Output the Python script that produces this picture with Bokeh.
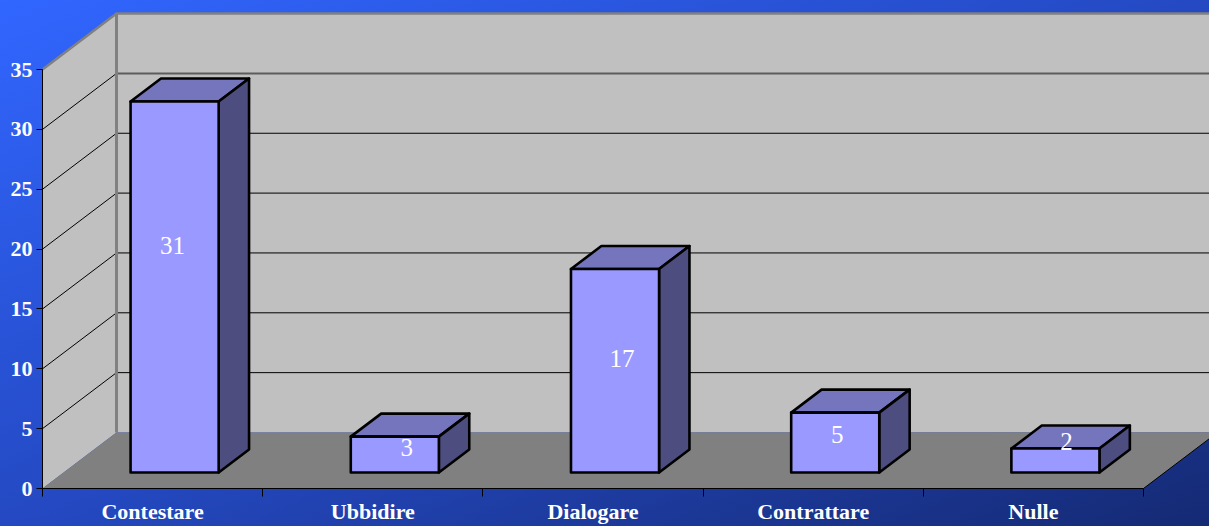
from bokeh.core.properties import value
from bokeh.embed import file_html
from bokeh.models import FixedTicker, LinearAxis, Range1d
from bokeh.plotting import figure
from bokeh.resources import INLINE

categories = ["Contestare", "Ubbidire", "Dialogare", "Contrattare", "Nulle"]
votes = [31, 3, 17, 5, 2]
y_ticks = [0, 5, 10, 15, 20, 25, 30, 35]
grid_levels = [5, 10, 15, 20, 25, 30]

W, H = 1209, 526
CAT_PX = 220.2
UNIT_PX = 11.97
LEFT = 42
BOTTOM = H - 488
DX = 74 / CAT_PX       # full chart depth, in categories
DY = 56 / UNIT_PX      # full chart depth, in value units
X_END = (W - LEFT) / CAT_PX
Y_END = (H - BOTTOM) / UNIT_PX
Y_MAX = y_ticks[-1]
N = len(categories)
FAR = X_END + DX + 1

SERIF = "Liberation Serif"
LABEL_SHIFT = [(-2, 41), (12, 7), (7, 12), (2, 8), (11, 19)]


def pr(x, v, d):
    return x + d * DX, v + d * DY


def poly(points):
    pts = [pr(*a) for a in points]
    return [a[0] for a in pts], [a[1] for a in pts]


p = figure(
    width=W, height=H, output_backend="svg", toolbar_location=None,
    x_range=Range1d(0, X_END), y_range=Range1d(0, Y_END),
    min_border_left=LEFT, min_border_bottom=BOTTOM, min_border_top=0, min_border_right=0,
    x_axis_location=None, y_axis_location=None,
    background_fill_alpha=0, border_fill_alpha=0, outline_line_color=None,
)
p.styles = {"background": "linear-gradient(to bottom right, #3166ff 0%, #2449c2 50%, #152a74 100%)"}
p.xgrid.visible = False
p.ygrid.visible = False

# walls and floor
xs, ys = poly([(0, 0, 1), (FAR, 0, 1), (FAR, Y_MAX, 1), (0, Y_MAX, 1)])
p.patch(xs, ys, fill_color="#c0c0c0", line_color=None)
xs, ys = poly([(0, 0, 0), (0, 0, 1), (0, Y_MAX, 1), (0, Y_MAX, 0)])
p.patch(xs, ys, fill_color="#c0c0c0", line_color=None)
xs, ys = poly([(0, 0, 0), (0, 0, 1), (N, 0, 1), (N, 0, 0)])
p.patch(xs, ys, fill_color="#808080", line_color=None)

# gridlines on both walls
for lv in grid_levels:
    top = lv == grid_levels[-1]
    xs, ys = poly([(0, lv, 1), (FAR, lv, 1)])
    p.line(xs, ys, line_color="#5c5c5c" if top else "#000000", line_width=2 if top else 1)
    xs, ys = poly([(0, lv, 0), (0, lv, 1)])
    p.line(xs, ys, line_color="#000000", line_width=1)

# wall edges
xs, ys = poly([(0, Y_MAX, 0), (0, Y_MAX, 1), (FAR, Y_MAX, 1)])
p.line(xs, ys, line_color="#808080", line_width=2.5)
xs, ys = poly([(0, 0, 1), (0, Y_MAX, 1)])
p.line(xs, ys, line_color="#808080", line_width=3)
xs, ys = poly([(N, 0, 0), (N, 0, 1)])
p.line(xs, ys, line_color="#000000", line_width=1)

# bars
D0, D1 = 16 / 56, 39 / 56
B0, B1 = 0.4 - D0 * DX, 0.8 - D0 * DX
for i, v in enumerate(votes):
    l, r = i + B0, i + B1
    for pts, col in (
        ([(l, v, D0), (r, v, D0), (r, v, D1), (l, v, D1)], "#7575bd"),
        ([(r, 0, D0), (r, 0, D1), (r, v, D1), (r, v, D0)], "#4d4d80"),
        ([(l, 0, D0), (r, 0, D0), (r, v, D0), (l, v, D0)], "#9999ff"),
    ):
        xs, ys = poly(pts)
        p.patch(xs, ys, fill_color=col, line_color="#000000", line_width=2.6, line_join="round")

# data labels
for i, v in enumerate(votes):
    dx_px, dy_px = LABEL_SHIFT[i]
    x, y = pr(i + (B0 + B1) / 2, v / 2, D0)
    p.text([x], [y], text=[str(v)], text_color="#ffffff", text_font=value(SERIF),
           text_font_size="25px", text_align="center", text_baseline="middle",
           x_offset=dx_px, y_offset=-dy_px)

# axes
ax_y = LinearAxis(ticker=FixedTicker(ticks=y_ticks), bounds=(0, Y_MAX))
ax_y.major_tick_in = 0
ax_y.major_tick_out = 6
ax_y.minor_tick_line_color = None
ax_y.axis_line_color = "#000000"
ax_y.major_tick_line_color = "#000000"
ax_y.major_label_text_color = "#ffffff"
ax_y.major_label_text_font = SERIF
ax_y.major_label_text_font_style = "bold"
ax_y.major_label_text_font_size = "22px"
ax_y.major_label_standoff = 4
p.add_layout(ax_y, "left")

centers = [i + 0.5 for i in range(N)]
ax_x = LinearAxis(ticker=FixedTicker(ticks=centers, minor_ticks=list(range(N + 1))), bounds=(0, N))
ax_x.major_label_overrides = dict(zip(centers, categories))
ax_x.major_tick_line_color = None
ax_x.major_tick_in = 0
ax_x.major_tick_out = 0
ax_x.minor_tick_in = 0
ax_x.minor_tick_out = 8
ax_x.minor_tick_line_color = "#000000"
ax_x.axis_line_color = "#000000"
ax_x.major_label_text_color = "#ffffff"
ax_x.major_label_text_font = SERIF
ax_x.major_label_text_font_style = "bold"
ax_x.major_label_text_font_size = "22px"
ax_x.major_label_standoff = 2
p.add_layout(ax_x, "below")

open("out.html", "w").write(file_html(p, INLINE))
